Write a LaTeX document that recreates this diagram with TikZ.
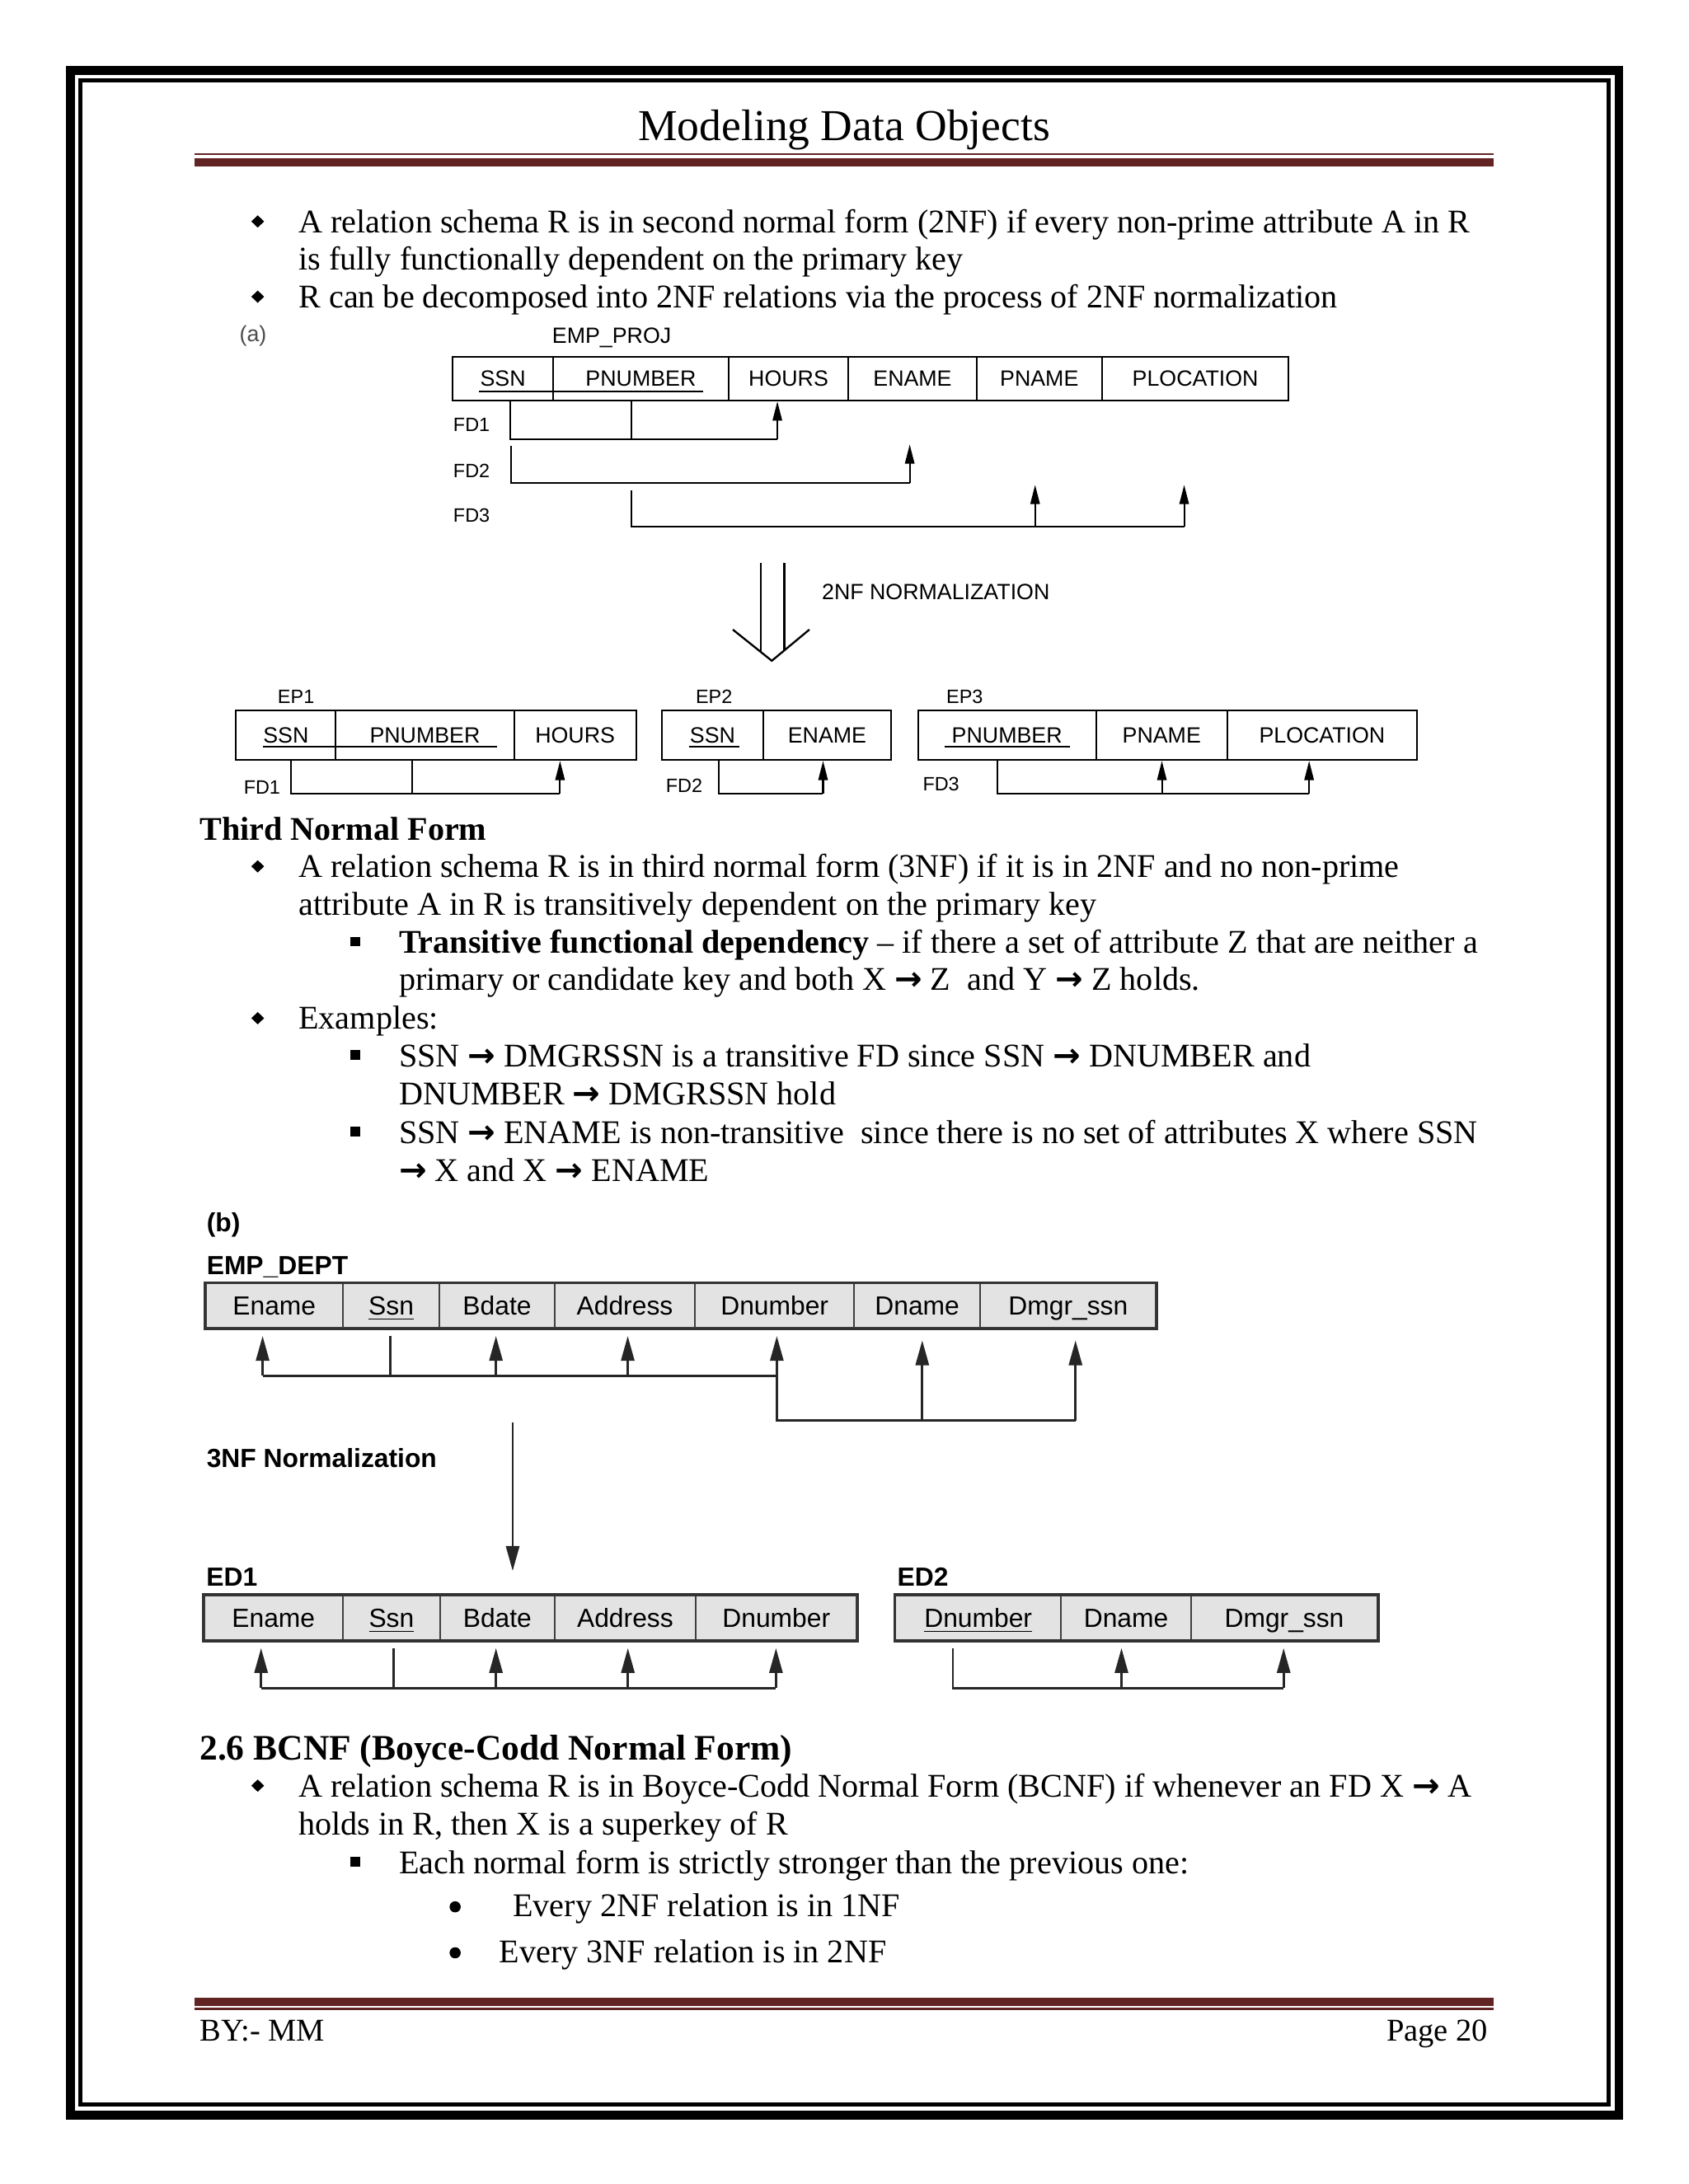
\documentclass[tikz,border=0pt]{standalone}
\usepackage{fontspec}
\setmainfont{Liberation Serif}
\setsansfont{Liberation Sans}
\newfontfamily\arrowfont{DejaVu Sans}
\usepackage{tikz}
\usetikzlibrary{arrows.meta, positioning, calc}
\definecolor{hdrRed}{HTML}{622423}
\definecolor{cellGray}{HTML}{E3E3E3}
\newlength\px
\setlength\px{0.50495pt}
\newcommand{\bodyfont}{\fontsize{12}{13.8}\selectfont}
\newcommand{\figA}{\sffamily\fontsize{8}{9.6}\selectfont}
\newcommand{\figAs}{\sffamily\fontsize{7}{8.4}\selectfont}
\newcommand{\figB}{\sffamily\fontsize{9.5}{11}\selectfont}
\newcommand{\fdto}{{\arrowfont\bfseries →}}

\begin{document}
\begin{tikzpicture}[x=\px, y=-\px, font=\bodyfont,
    txt/.style={anchor=base west, inner sep=0pt},
    cellA/.style={draw, line width=0.6pt, inner sep=0pt, font=\figA, text height=5.7pt, text depth=0pt},
    cellB/.style={draw=black!75, fill=cellGray, line width=0.6pt, inner sep=0pt, font=\figB, text height=6.8pt, text depth=0pt},
    fdline/.style={line width=0.6pt},
    fdarrow/.style={line width=0.6pt, -{Triangle[length=7pt, width=3.4pt]}},
    depline/.style={line width=0.8pt, black!85},
    deparrow/.style={line width=0.8pt, black!85, -{Triangle[length=9pt, width=4.8pt]}, shorten >=2.6pt}]
  \useasboundingbox (0,0) rectangle (1212,1568);
  \fill[white] (0,0) rectangle (1212,1568);

  % page border
  \draw[line width=3.2pt] (50.5,50.5) rectangle (1162,1518.5);
  \draw[line width=1.5pt] (57.7,57.7) rectangle (1154.5,1510.8);

  % header and footer
  \node[anchor=base, inner sep=0pt, font=\fontsize{16}{19}\selectfont] (title) at (606,100.6) {Modeling Data Objects};
  \draw[hdrRed, line width=0.7pt] (139.7,110.7) -- (1072.3,110.7);
  \draw[hdrRed, line width=3pt] (139.7,116.4) -- (1072.3,116.4);
  \draw[hdrRed, line width=3pt] (139.7,1437) -- (1072.3,1437);
  \draw[hdrRed, line width=0.7pt] (139.7,1442.3) -- (1072.3,1442.3);
  \node[txt, font=\fontsize{11.5}{13}\selectfont] (byline) at (143,1465.3) {BY:- MM};
  \node[anchor=base east, inner sep=0pt, font=\fontsize{11.5}{13}\selectfont] (pageno) at (1068.5,1465.3) {Page 20};

  % bullets
  \foreach \y in {167,221,630,739,1290}
    \fill (185,{\y-8}) +(-4.6,0) -- +(0,-4.4) -- +(4.6,0) -- +(0,4.4) -- cycle;
  \foreach \y in {684.5,766,821,1345}
    \fill (251.5,{\y-12}) rectangle +(7,7);
  \foreach \y in {1376,1409}
    \fill (326.7,{\y-7}) circle (4);

  % 2NF text
  \node[txt] (t1) at (214,167) {A relation schema R is in second normal form (2NF) if every non-prime attribute A in R};
  \node[txt] (t2) at (214,194) {is fully functionally dependent on the primary key};
  \node[txt] (t3) at (214,221) {R can be decomposed into 2NF relations via the process of 2NF normalization};

  % (a) EMP_PROJ
  \node[txt, font=\figA, text=black!70] (alabel) at (171.6,245) {(a)};
  \node[txt, font=\figA] (empproj) at (396,246.6) {EMP\_PROJ};
  \foreach \nm/\xa/\xb/\txt in {ssn/325/397/SSN, pnum/397/523/PNUMBER, hours/523/609/HOURS,
      ename/609/701/ENAME, pname/701/791/PNAME, ploc/791/925/PLOCATION}
    \node[cellA, minimum width={(\xb-\xa)*\px}, minimum height=31.6\px] (p-\nm) at ({(\xa+\xb)/2},271.8) {\txt};
  \draw[line width=0.8pt] (344,281) -- (505,281);
  \node[txt, font=\figAs] (pfd1) at (325,309.6) {FD1};
  \node[txt, font=\figAs] (pfd2) at (325,342.7) {FD2};
  \node[txt, font=\figAs] (pfd3) at (325,374.8) {FD3};
  % FD1
  \coordinate (fd1l) at (366,315.5);
  \coordinate (fd1r) at (558,315.5);
  \draw[fdline] (p-ssn.south -| fd1l) -- (fd1l) -- (fd1r);
  \draw[fdline] (p-pnum.south -| 453,0) -- (453,315.5);
  \draw[fdarrow] (fd1r) -- (p-hours.south -| fd1r);
  % FD2
  \coordinate (fd2l) at (367,347);
  \coordinate (fd2r) at (653,347);
  \draw[fdline, shorten <=32\px] (p-ssn.south -| fd2l) -- (fd2l) -- (fd2r);
  \draw[fdarrow, shorten >=30.9\px] (fd2r) -- (p-ename.south -| fd2r);
  % FD3
  \coordinate (fd3l) at (453,378);
  \coordinate (fd3r) at (850,378);
  \draw[fdline, shorten <=63.9\px] (p-pnum.south -| fd3l) -- (fd3l) -- (fd3r);
  \draw[fdarrow, shorten >=59.9\px] (743,378) -- (p-pname.south -| 743,0);
  \draw[fdarrow, shorten >=59.9\px] (fd3r) -- (p-ploc.south -| fd3r);

  % 2NF normalization arrow
  \coordinate (nf2tip) at (554,474.4);
  \draw[line width=0.7pt] (526,452) -- (nf2tip) -- (581,452);
  \draw[line width=0.7pt] (546,404) -- (546,468);
  \draw[line width=0.7pt] (563,404) -- (563,467);
  \node[txt, font=\figA] (nf2lbl) at (589.6,430.5) {2NF NORMALIZATION};

  % EP1, EP2, EP3
  \node[txt, font=\figAs] (ep1) at (199,505) {EP1};
  \node[txt, font=\figAs] (ep2) at (499,505) {EP2};
  \node[txt, font=\figAs] (ep3) at (679,505) {EP3};
  \foreach \nm/\xa/\xb/\txt in {a-ssn/169.5/241/SSN, a-pnum/241/369/PNUMBER, a-hours/369/456.6/HOURS,
      b-ssn/475/548/SSN, b-ename/548/639.5/ENAME,
      c-pnum/659/786.7/PNUMBER, c-pname/786.7/881/PNAME, c-ploc/881/1017/PLOCATION}
    \node[cellA, minimum width={(\xb-\xa)*\px}, minimum height=35.7\px] (e\nm) at ({(\xa+\xb)/2},527.8) {\txt};
  \draw[line width=0.8pt] (189,536) -- (357,536);
  \draw[line width=0.8pt] (494.5,536) -- (531,536);
  \draw[line width=0.8pt] (678,536) -- (768,536);
  \node[txt, font=\figAs] (efd1) at (174.6,570) {FD1};
  \node[txt, font=\figAs] (efd2) at (477.6,569) {FD2};
  \node[txt, font=\figAs] (efd3) at (662,567.6) {FD3};
  \coordinate (g1l) at (209,569.7);
  \coordinate (g1r) at (402,569.7);
  \draw[fdline] (ea-ssn.south -| g1l) -- (g1l) -- (g1r);
  \draw[fdline] (ea-pnum.south -| 296,0) -- (296,569.7);
  \draw[fdarrow] (g1r) -- (ea-hours.south -| g1r);
  \coordinate (g2l) at (516,569.7);
  \coordinate (g2r) at (590.8,569.7);
  \draw[fdline] (eb-ssn.south -| g2l) -- (g2l) -- (g2r);
  \draw[fdarrow] (g2r) -- (eb-ename.south -| g2r);
  \coordinate (g3l) at (716,569.7);
  \coordinate (g3r) at (939.7,569.7);
  \draw[fdline] (ec-pnum.south -| g3l) -- (g3l) -- (g3r);
  \draw[fdarrow] (834,569.7) -- (ec-pname.south -| 834,0);
  \draw[fdarrow] (g3r) -- (ec-ploc.south -| g3r);

  % 3NF text
  \node[txt, font=\bodyfont\bfseries] (h3nf) at (143,603) {Third Normal Form};
  \node[txt] (t4) at (214,630) {A relation schema R is in third normal form (3NF) if it is in 2NF and no non-prime};
  \node[txt] (t5) at (214,657) {attribute A in R is transitively dependent on the primary key};
  \node[txt] (t6) at (286,684.5) {\textbf{Transitive functional dependency} -- if there a set of attribute Z that are neither a};
  \node[txt] (t7) at (286,711) {primary or candidate key and both X \fdto{} Z\ \ and Y \fdto{} Z holds.};
  \node[txt] (t8) at (214,739) {Examples:};
  \node[txt] (t9) at (286,766) {SSN \fdto{} DMGRSSN is a transitive FD since SSN \fdto{} DNUMBER and};
  \node[txt] (t10) at (286,793) {DNUMBER \fdto{} DMGRSSN hold};
  \node[txt] (t11) at (286,821) {SSN \fdto{} ENAME is non-transitive\ \ since there is no set of attributes X where SSN};
  \node[txt] (t12) at (286,848) {\fdto{} X and X \fdto{} ENAME};

  % (b) EMP_DEPT
  \node[txt, font=\figB\bfseries] (blabel) at (148,884) {(b)};
  \node[txt, font=\figB\bfseries] (empdept) at (148,915) {EMP\_DEPT};
  \foreach \nm/\xa/\xb/\txt in {ename/147.8/246/Ename, ssn/246/315.6/{\underline{Ssn}}, bdate/315.6/398/Bdate,
      addr/398/499/Address, dnum/499/613/Dnumber, dname/613/703.7/Dname, dmgr/703.7/829.8/{Dmgr\_ssn}}
    \node[cellB, minimum width={(\xb-\xa)*\px}, minimum height=31.9\px] (d-\nm) at ({(\xa+\xb)/2},937.5) {\txt};
  \draw[line width=1pt, black!80] (d-ename.north west) rectangle (d-dmgr.south east);
  \coordinate (b1l) at (188.5,987.7);
  \coordinate (b1r) at (557.6,987.7);
  \draw[depline] (b1l) -- (b1r);
  \draw[deparrow] (b1l) -- (d-ename.south -| b1l);
  \draw[depline, shorten <=2.6pt] (d-ssn.south -| 280,0) -- (280,987.7);
  \draw[deparrow] (356,987.7) -- (d-bdate.south -| 356,0);
  \draw[deparrow] (450.6,987.7) -- (d-addr.south -| 450.6,0);
  \draw[deparrow] (b1r) -- (d-dnum.south -| b1r);
  \coordinate (b2l) at (557.6,1019.8);
  \coordinate (b2r) at (772,1019.8);
  \draw[depline, shorten <=20.2\px] (d-dnum.south -| b2l) -- (b2l) -- (b2r);
  \draw[deparrow, shorten >=4.2pt] (662,1019.8) -- (d-dname.south -| 662,0);
  \draw[deparrow, shorten >=4.2pt] (b2r) -- (d-dmgr.south -| b2r);

  % 3NF normalization
  \node[txt, font=\figB\bfseries] (nf3lbl) at (148,1053.5) {3NF Normalization};
  \coordinate (nf3top) at (368,1021);

  % ED1, ED2
  \node[txt, font=\figB\bfseries] (ed1) at (147.8,1138.6) {ED1};
  \node[txt, font=\figB\bfseries] (ed2) at (643.8,1138.6) {ED2};
  \foreach \nm/\xa/\xb/\txt in {1-ename/146.6/246/Ename, 1-ssn/246/316/{\underline{Ssn}}, 1-bdate/316/398/Bdate,
      1-addr/398/499.5/Address, 1-dnum/499.5/615/Dnumber,
      2-dnum/642.7/761.6/{\underline{Dnumber}}, 2-dname/761.6/855/Dname, 2-dmgr/855/988.7/{Dmgr\_ssn}}
    \node[cellB, minimum width={(\xb-\xa)*\px}, minimum height=32.1\px] (f\nm) at ({(\xa+\xb)/2},1161.5) {\txt};
  \draw[line width=1pt, black!80] (f1-ename.north west) rectangle (f1-dnum.south east);
  \draw[line width=1pt, black!80] (f2-dnum.north west) rectangle (f2-dmgr.south east);
  \draw[deparrow, shorten >=8.6pt] (nf3top) -- (nf3top |- f1-bdate.north);
  \coordinate (c1l) at (187.4,1212);
  \coordinate (c1r) at (557,1212);
  \draw[depline] (c1l) -- (c1r);
  \draw[deparrow] (c1l) -- (f1-ename.south -| c1l);
  \draw[depline, shorten <=2.6pt] (f1-ssn.south -| 282.6,0) -- (282.6,1212);
  \draw[deparrow] (356,1212) -- (f1-bdate.south -| 356,0);
  \draw[deparrow] (450.7,1212) -- (f1-addr.south -| 450.7,0);
  \draw[deparrow] (c1r) -- (f1-dnum.south -| c1r);
  \coordinate (c2l) at (684,1212);
  \coordinate (c2r) at (921.4,1212);
  \draw[depline, shorten <=2.6pt] (f2-dnum.south -| c2l) -- (c2l) -- (c2r);
  \draw[deparrow] (805,1212) -- (f2-dname.south -| 805,0);
  \draw[deparrow] (c2r) -- (f2-dmgr.south -| c2r);

  % BCNF text
  \node[txt, font=\fontsize{13}{15}\selectfont\bfseries] (hbcnf) at (143,1263.5) {2.6 BCNF (Boyce-Codd Normal Form)};
  \node[txt] (t13) at (214,1290) {A relation schema R is in Boyce-Codd Normal Form (BCNF) if whenever an FD X \fdto{} A};
  \node[txt] (t14) at (214,1317.6) {holds in R, then X is a superkey of R};
  \node[txt] (t15) at (286,1345) {Each normal form is strictly stronger than the previous one:};
  \node[txt] (t16) at (367.8,1376) {Every 2NF relation is in 1NF};
  \node[txt] (t17) at (358,1409) {Every 3NF relation is in 2NF};
\end{tikzpicture}
\end{document}
